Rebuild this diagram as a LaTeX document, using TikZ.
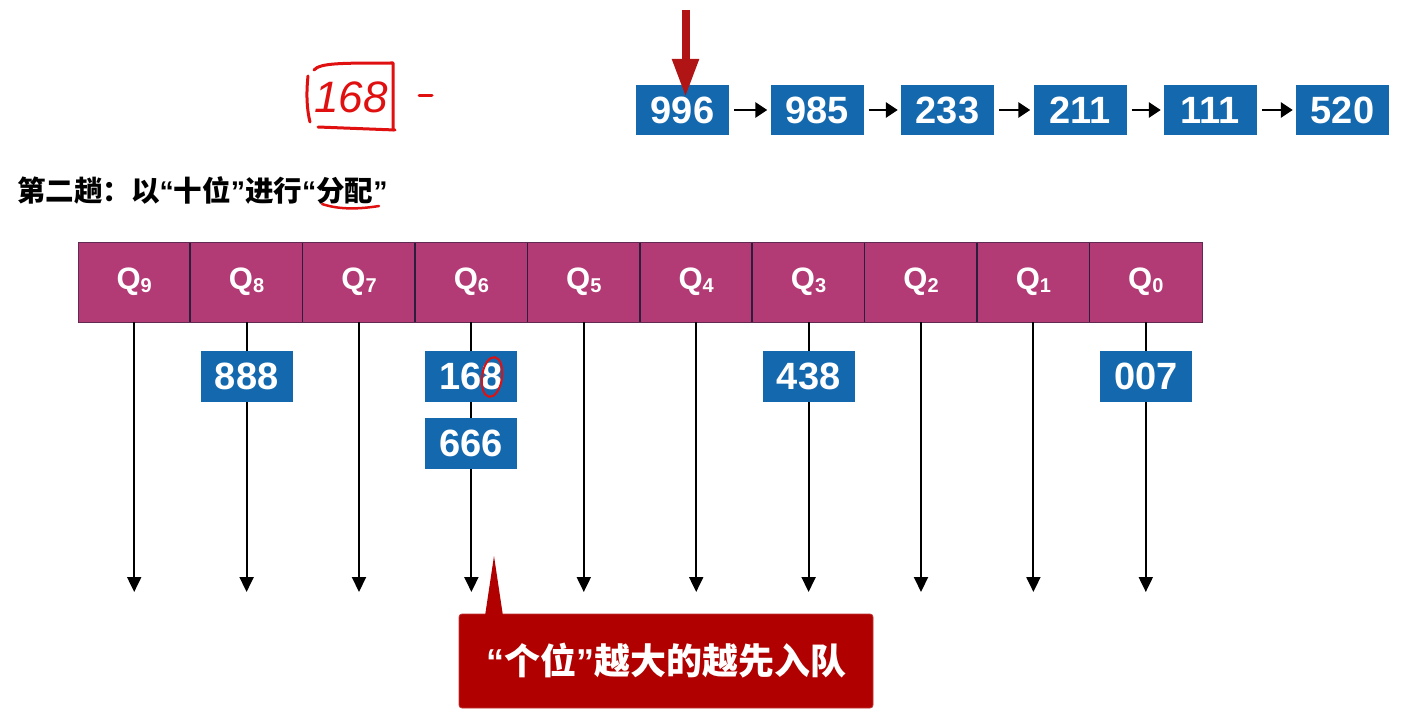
\documentclass[tikz,border=0pt]{standalone}
\usepackage{fontspec}
\setmainfont{Liberation Sans}
\newfontfamily\cjk{Noto Sans CJK SC}
\newfontfamily\quotefnt{Liberation Sans}
\newcommand\myoq{{\quotefnt\bfseries “}}
\newcommand\mycq{{\quotefnt\bfseries ”}}
\usetikzlibrary{arrows.meta}
\definecolor{qblue}{HTML}{1469AE}
\definecolor{qmag}{HTML}{B23B76}
\definecolor{qsep}{HTML}{2A1E3C}
\definecolor{cred}{HTML}{B00000}
\definecolor{ared}{HTML}{B01414}
\definecolor{hred}{HTML}{E01010}
\begin{document}
\begin{tikzpicture}[x=1pt,y=-1pt,
  numbox/.style={draw=none, fill=qblue, minimum width=92pt, minimum height=51pt, inner sep=0pt, text=white, font=\fontsize{38}{38}\selectfont\bfseries},
  qcell/.style={fill=qmag, draw=none, minimum width=112.4pt, minimum height=80pt, inner sep=0pt, text=white, font=\fontsize{31}{31}\selectfont\bfseries},
  link/.style={-{Triangle[length=12pt,width=15pt]}, line width=2.8pt, black},
  drop/.style={-{Triangle[length=15pt,width=14pt]}, line width=2pt, black},
  hand/.style={hred, line width=3pt, line cap=round, line join=round}
]
\useasboundingbox (0,0) rectangle (1402,725);

% ---- top linked list
\node[numbox, minimum width=93pt, minimum height=50pt] (l1) at (682.5,110) {996};
\node[numbox, minimum width=93pt, minimum height=50pt] (l2) at (817,110) {985};
\node[numbox, minimum width=93pt, minimum height=50pt] (l3) at (947.5,110) {233};
\node[numbox, minimum width=93pt, minimum height=50pt] (l4) at (1080,110) {211};
\node[numbox, minimum width=93pt, minimum height=50pt] (l5) at (1210.5,110) {111};
\node[numbox, minimum width=93pt, minimum height=50pt] (l6) at (1342.5,110) {520};
\foreach \a/\b in {l1/l2,l2/l3,l3/l4,l4/l5,l5/l6}
  \draw[link, shorten <=5pt, shorten >=3pt] (\a.east) -- (\b.west);

% red pointer arrow
\coordinate (ps) at (685.5,10);
\coordinate (pe) at (685.5,97);
\draw[ared, line width=8pt, -{Triangle[length=38pt,width=25pt]}] (ps) -- (pe);

% ---- handwritten annotation
\node[text=hred, font=\fontsize{44}{44}\selectfont\itshape, inner sep=0pt] (hw) at (351,97) {168};
\draw[hand] (308,76) .. controls (306,95) and (307,110) .. (310,122);
\draw[hand] (314,70) .. controls (320,63) and (340,63) .. (393,63) -- (393,130);
\draw[hand] (318,127) -- (395,130);
\draw[hand] (419,95) -- (432,95);

% ---- title
\node[anchor=west, inner sep=0pt, font=\cjk\bfseries\fontsize{28.5}{28.5}\selectfont] (title) at (17,190) {第二趟：以\myoq 十位\mycq 进行\myoq 分配\mycq};
\draw[hred, line width=2.5pt, line cap=round] (322,204) .. controls (340,210) and (360,209) .. (379,206);

% ---- queue header
\foreach \i in {0,...,9} {
  \pgfmathtruncatemacro\q{9-\i}
  \node[qcell] (q\q) at ({134.2+112.4*\i},282) {Q{\fontsize{20}{20}\selectfont\raisebox{-3pt}{\q}}};
  \coordinate (e\q) at ({134.2+112.4*\i},592);
}
\foreach \q in {8,...,0}
  \draw[qsep, line width=1.5pt] (q\q.north west) -- (q\q.south west);
\draw[qsep!60!qmag, line width=0.6pt] (q9.north west) rectangle (q0.south east);

% drop arrows
\foreach \q in {0,...,9}
  \draw[drop] (q\q.south) -- (e\q);

% ---- queued numbers
\node[numbox] (n888) at (246.6,376) {888};
\node[numbox] (n168) at (471.4,376) {168};
\node[numbox] (n666) at (471.4,443.5) {666};
\node[numbox] (n438) at (808.6,376) {438};
\node[numbox] (n007) at (1145.8,376) {007};
\draw[hred, line width=2pt, rotate around={-8:(492,377)}] (492,377) ellipse [x radius=10pt, y radius=20pt];

% ---- callout
\coordinate (tip) at (494,556);
\node[fill=cred, draw=cred!80!white, line width=0.8pt, rounded corners=3pt, minimum width=414pt, minimum height=94pt, inner sep=0pt, text=white, font=\cjk\bfseries\fontsize{36}{36}\selectfont] (call) at (666,661) {\myoq 个位\mycq 越大的越先入队};
\fill[cred] (485,616) -- (tip) -- (503,616) -- cycle;
\end{tikzpicture}
\end{document}
